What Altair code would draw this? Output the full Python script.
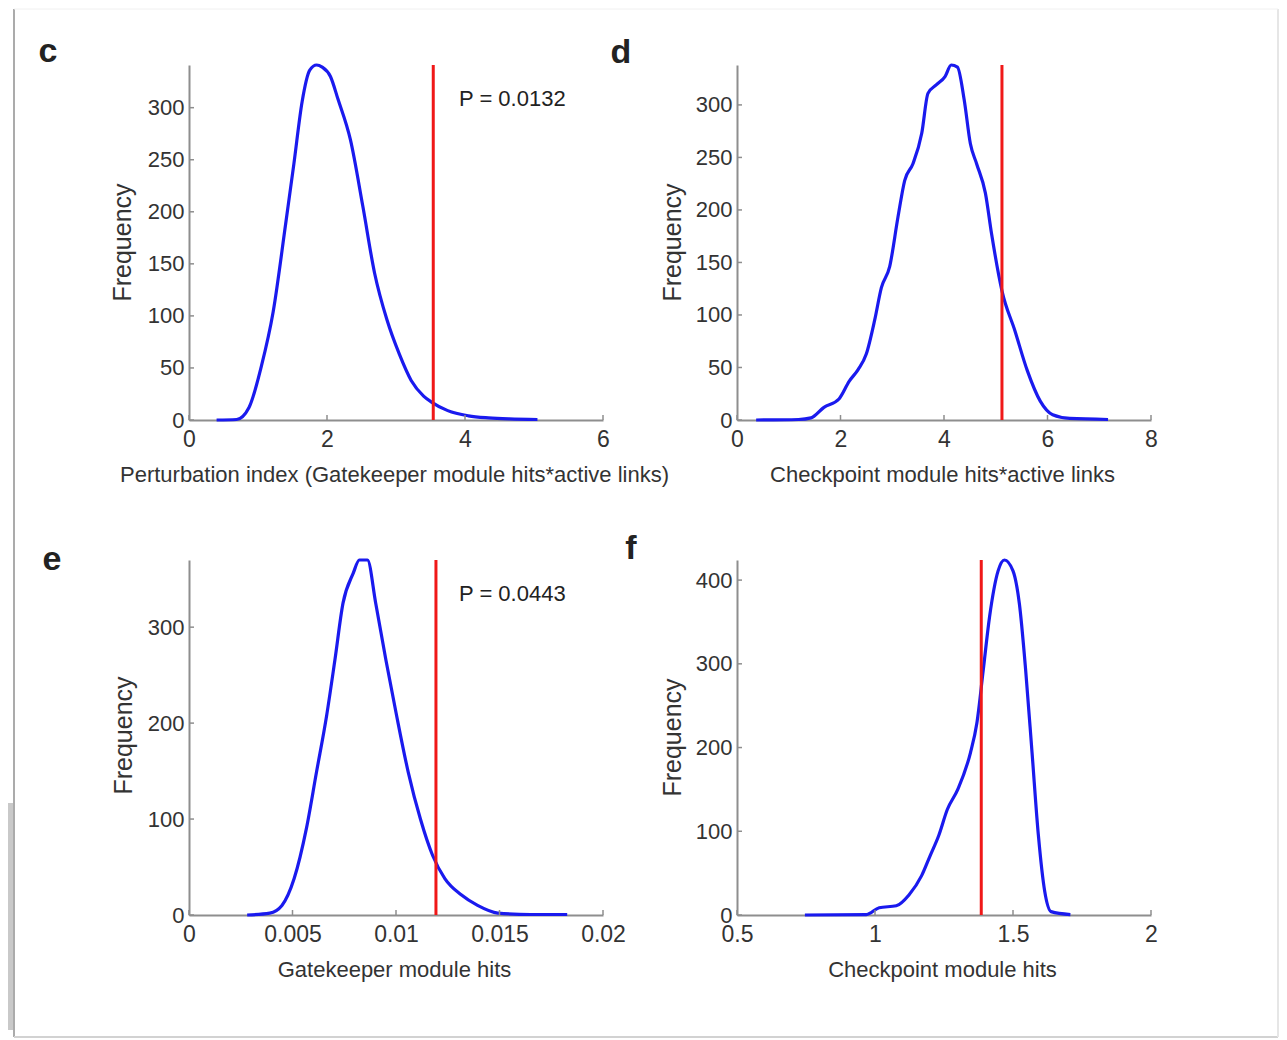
import altair as alt
import pandas as pd

# ---------------- data ----------------
c_x = [0.40, 0.69, 0.87, 1.05, 1.22, 1.40, 1.52, 1.64, 1.75, 1.85, 1.93, 2.05, 2.16, 2.34, 2.52, 2.69, 2.87, 3.05, 3.22, 3.40, 3.52, 3.75, 4.05, 4.34, 4.64, 5.05]
c_y = [0, 0.5, 12, 52, 104, 188, 246, 306, 336, 341, 339, 330, 308, 269, 205, 141, 96, 63, 38, 23, 17, 9, 4, 2, 1, 0.5]
c_red = 3.54
c_xticks = [0, 2, 4, 6]
c_yticks = [0, 50, 100, 150, 200, 250, 300]
c_xdom = [0, 6]
c_ytop = 341

d_x = [0.37, 1.19, 1.43, 1.68, 1.97, 2.17, 2.34, 2.5, 2.66, 2.79, 2.95, 3.11, 3.24, 3.4, 3.57, 3.69, 3.85, 4.02, 4.14, 4.26, 4.39, 4.51, 4.63, 4.8, 4.92, 5.12, 5.37, 5.61, 5.86, 6.1, 6.43, 7.17]
d_y = [0, 0.5, 2, 12, 20, 37, 48, 63, 95, 126, 146, 193, 228, 244, 273, 311, 319, 327, 338, 336, 305, 263, 244, 216, 177, 123, 85, 47, 18, 5, 1.5, 0.5]
d_red = 5.12
d_xticks = [0, 2, 4, 6, 8]
d_yticks = [0, 50, 100, 150, 200, 250, 300]
d_xdom = [0, 8]
d_ytop = 338

e_x = [0.00281, 0.0039, 0.00449, 0.00508, 0.00567, 0.00616, 0.00665, 0.00705, 0.00744, 0.00793, 0.00823, 0.00862, 0.00902, 0.00951, 0.0100, 0.01059, 0.01118, 0.01177, 0.01236, 0.01315, 0.01394, 0.01492, 0.0165, 0.01827]
e_y = [0, 2, 10, 38, 90, 149, 208, 266, 325, 356, 370, 370, 325, 266, 211, 149, 100, 62, 38, 21, 10, 2, 0.5, 0.5]
e_red = 0.01193
e_xticks = [0, 0.005, 0.01, 0.015, 0.02]
e_yticks = [0, 100, 200, 300]
e_xdom = [0, 0.02]
e_ytop = 370

f_x = [0.746, 0.969, 1.015, 1.077, 1.123, 1.169, 1.2, 1.231, 1.262, 1.3, 1.346, 1.369, 1.392, 1.415, 1.446, 1.469, 1.5, 1.523, 1.546, 1.569, 1.592, 1.615, 1.638, 1.708]
f_y = [0, 0.5, 8.7, 11, 24, 47, 71, 95, 126, 150, 194, 229, 292, 356, 411, 424, 411, 372, 292, 194, 95, 28, 4, 0.5]
f_red = 1.385
f_xticks = [0.5, 1, 1.5, 2]
f_yticks = [0, 100, 200, 300, 400]
f_xdom = [0.5, 2]
f_ytop = 424

letters = ["c", "d", "e", "f"]
x_titles = [
    "Perturbation index (Gatekeeper module hits*active links)",
    "Checkpoint module hits*active links",
    "Gatekeeper module hits",
    "Checkpoint module hits",
]
y_title = "Frequency"
p_texts = ["P = 0.0132", "", "P = 0.0443", ""]

# ---------------- style ----------------
W, H = 414, 355
FONT = "Liberation Sans"
AXIS_COL = "#8e8e8e"
TEXT_COL = "#333333"
BLUE = "#1a1aee"
RED = "#f01818"
LABEL_EXPR = "datum.value + ''"


def panel(xs, ys, red, xdom, ytop, xticks, yticks, xtitle, letter, ldx, ldy, ptext, ytx, yty):
    df = pd.DataFrame({"x": xs, "y": ys})
    xscale = alt.Scale(domain=xdom, nice=False, zero=False)
    yscale = alt.Scale(domain=[0, ytop], nice=False, zero=True)
    xaxis = alt.Axis(
        values=xticks, labelExpr=LABEL_EXPR, title=xtitle, ticks=False, grid=False,
        domainColor=AXIS_COL, domainWidth=2,
        labelFont=FONT, labelFontSize=23, labelColor=TEXT_COL, labelPadding=8,
        labelFlush=False, labelOverlap=False,
        titleFont=FONT, titleFontSize=22, titleFontWeight="normal", titleColor=TEXT_COL,
        titleX=205, titleY=54, titleBaseline="middle", titleAlign="center",
    )
    yaxis = alt.Axis(
        values=yticks, labelExpr=LABEL_EXPR, title=y_title, ticks=False, grid=False,
        domainColor=AXIS_COL, domainWidth=2,
        labelFont=FONT, labelFontSize=22, labelColor=TEXT_COL, labelPadding=5,
        labelFlush=False, labelOverlap=False,
        titleFont=FONT, titleFontSize=25, titleFontWeight="normal", titleColor=TEXT_COL,
        titleX=ytx, titleY=yty, titleBaseline="middle", titleAlign="center", titleAngle=270,
    )
    line = alt.Chart(df).mark_line(color=BLUE, strokeWidth=3.2, interpolate="monotone").encode(
        x=alt.X("x:Q", scale=xscale, axis=xaxis),
        y=alt.Y("y:Q", scale=yscale, axis=yaxis),
    )
    redl = alt.Chart(pd.DataFrame({"x": [red]})).mark_rule(color=RED, strokeWidth=3).encode(
        x=alt.X("x:Q", scale=xscale)
    )
    xt = alt.Chart(pd.DataFrame({"v": xticks})).mark_rule(color=AXIS_COL, strokeWidth=1.5).encode(
        x=alt.X("v:Q", scale=xscale), y=alt.value(H), y2=alt.value(H - 5)
    )
    yt = alt.Chart(pd.DataFrame({"v": yticks})).mark_rule(color=AXIS_COL, strokeWidth=1.5).encode(
        y=alt.Y("v:Q", scale=yscale), x=alt.value(0), x2=alt.value(5)
    )
    lt = alt.Chart(pd.DataFrame({"t": [letter]})).mark_text(
        font=FONT, fontSize=34, fontWeight="bold", color="#222222", align="center", baseline="alphabetic"
    ).encode(text="t:N", x=alt.value(ldx), y=alt.value(ldy))
    layers = [line, redl, xt, yt, lt]
    if ptext:
        pt = alt.Chart(pd.DataFrame({"t": [ptext]})).mark_text(
            font=FONT, fontSize=22, color="#222222", align="left", baseline="middle"
        ).encode(text="t:N", x=alt.value(270), y=alt.value(34))
        layers.append(pt)
    return layers


c_layers = panel(c_x, c_y, c_red, c_xdom, c_ytop, c_xticks, c_yticks, x_titles[0], letters[0], -141, -3, p_texts[0], -67, 177)
d_layers = panel(d_x, d_y, d_red, d_xdom, d_ytop, d_xticks, d_yticks, x_titles[1], letters[1], -116, -2, p_texts[1], -65, 177)
e_layers = panel(e_x, e_y, e_red, e_xdom, e_ytop, e_xticks, e_yticks, x_titles[2], letters[2], -137, 10, p_texts[2], -66, 175)
f_layers = panel(f_x, f_y, f_red, f_xdom, f_ytop, f_xticks, f_yticks, x_titles[3], letters[3], -106, -1, p_texts[3], -65, 177)

# page frame (paper edge + shadow), drawn relative to panel c
one = pd.DataFrame({"k": [0]})
frame = [
    alt.Chart(one).mark_rect(color="#c9c9c9").encode(
        x=alt.value(-181), x2=alt.value(-176), y=alt.value(738), y2=alt.value(965)),
    alt.Chart(one).mark_rule(color="#ababab", strokeWidth=2).encode(
        x=alt.value(-175), y=alt.value(-56), y2=alt.value(972)),
    alt.Chart(one).mark_rule(color="#d2d2d2", strokeWidth=2).encode(
        x=alt.value(-175), x2=alt.value(1089), y=alt.value(972)),
    alt.Chart(one).mark_rule(color="#e6e6e6", strokeWidth=2).encode(
        x=alt.value(1089), y=alt.value(-56), y2=alt.value(972)),
    alt.Chart(one).mark_rule(color="#f0f0f0", strokeWidth=1).encode(
        x=alt.value(-175), x2=alt.value(1089), y=alt.value(-56)),
]

c = alt.layer(*frame, *c_layers).properties(width=W, height=H)
d = alt.layer(*d_layers).properties(width=W, height=H)
e = alt.layer(*e_layers).properties(width=W, height=H)
f = alt.layer(*f_layers).properties(width=W, height=H)

chart = alt.concat(c, d, e, f, columns=2, spacing={"row": 140, "column": 134}, bounds="flush").properties(
    padding={"left": 0, "top": 0, "right": 0, "bottom": 0}, background="white"
).configure_view(stroke=None)

chart.save("out.html", embed_options={"renderer": "svg", "actions": False})
